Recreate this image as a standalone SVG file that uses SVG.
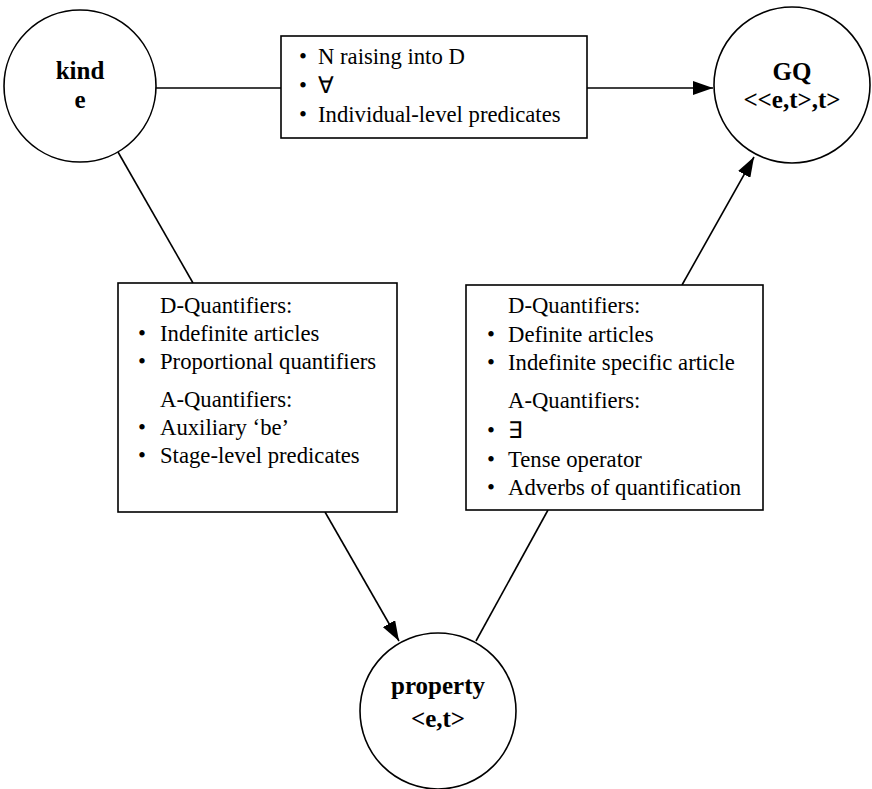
<svg xmlns="http://www.w3.org/2000/svg" width="872" height="789" viewBox="0 0 872 789">
<style>
.node{fill:#fff;stroke:#000;stroke-width:1.6}
.box{fill:#fff;stroke:#000;stroke-width:1.6}
.edge{stroke:#000;stroke-width:1.6;fill:none}
.lbl{font-family:"Liberation Serif","Times New Roman",serif;font-weight:bold;font-size:25px;text-anchor:middle;fill:#000}
.t{font-family:"Liberation Serif","Times New Roman",serif;font-size:22.7px;fill:#000}
</style>
<defs>
<marker id="arr" markerUnits="userSpaceOnUse" markerWidth="20" markerHeight="14" refX="20" refY="7" orient="auto">
<path d="M0,0 L20,7 L0,14 z" fill="#000"/>
</marker>
</defs>
<rect width="872" height="789" fill="#fff"/>
<g id="connectors">
<line class="edge" x1="155" y1="88" x2="281" y2="88"/>
<line class="edge" x1="587" y1="88" x2="713" y2="88" marker-end="url(#arr)"/>
<line class="edge" x1="118" y1="152" x2="193" y2="283"/>
<line class="edge" x1="325" y1="512" x2="399" y2="641" marker-end="url(#arr)"/>
<line class="edge" x1="548" y1="510" x2="476" y2="641"/>
<line class="edge" x1="682" y1="285" x2="754" y2="157" marker-end="url(#arr)"/>
</g>
<g id="kind">
<circle class="node" cx="80" cy="86" r="76"/>
<text class="lbl" x="80" y="79">kind</text>
<text class="lbl" x="80" y="108">e</text>
</g>
<g id="gq">
<circle class="node" cx="792" cy="85" r="78"/>
<text class="lbl" x="792" y="80">GQ</text>
<text class="lbl" x="792" y="108">&lt;&lt;e,t&gt;,t&gt;</text>
</g>
<g id="property">
<circle class="node" cx="438" cy="711" r="78"/>
<text class="lbl" x="438" y="694">property</text>
<text class="lbl" x="438" y="727">&lt;e,t&gt;</text>
</g>
<g id="box-top">
<rect class="box" x="281" y="36" width="306" height="102"/>
<text class="t" x="299" y="64">•</text><text class="t" x="318" y="64">N raising into D</text>
<text class="t" x="299" y="93">•</text><text class="t" x="318" y="93">∀</text>
<text class="t" x="299" y="122">•</text><text class="t" x="318" y="122">Individual-level predicates</text>
</g>
<g id="box-left">
<rect class="box" x="118" y="283" width="279" height="229"/>
<text class="t" x="160" y="313">D-Quantifiers:</text>
<text class="t" x="138" y="341">•</text><text class="t" x="160" y="341">Indefinite articles</text>
<text class="t" x="138" y="369">•</text><text class="t" x="160" y="369">Proportional quantifiers</text>
<text class="t" x="160" y="407">A-Quantifiers:</text>
<text class="t" x="138" y="435">•</text><text class="t" x="160" y="435">Auxiliary ‘be’</text>
<text class="t" x="138" y="463">•</text><text class="t" x="160" y="463">Stage-level predicates</text>
</g>
<g id="box-right">
<rect class="box" x="466" y="285" width="297" height="225"/>
<text class="t" x="508" y="313">D-Quantifiers:</text>
<text class="t" x="487" y="342">•</text><text class="t" x="508" y="342">Definite articles</text>
<text class="t" x="487" y="370">•</text><text class="t" x="508" y="370">Indefinite specific article</text>
<text class="t" x="508" y="408">A-Quantifiers:</text>
<text class="t" x="487" y="438">•</text><text class="t" x="508" y="438">∃</text>
<text class="t" x="487" y="467">•</text><text class="t" x="508" y="467">Tense operator</text>
<text class="t" x="487" y="495">•</text><text class="t" x="508" y="495">Adverbs of quantification</text>
</g>
</svg>
